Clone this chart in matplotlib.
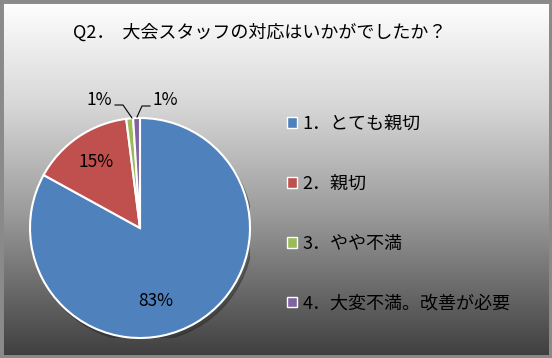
import matplotlib
matplotlib.use('Agg')
import matplotlib.pyplot as plt
import numpy as np
from matplotlib.patches import Rectangle, Circle
from matplotlib.colors import LinearSegmentedColormap

plt.rcParams['font.family'] = ['Noto Sans CJK JP', 'DejaVu Sans']

title = 'Q2．  大会スタッフの対応はいかがでしたか？'
labels = ['1．とても親切', '2．親切', '3．やや不満', '4．大変不満。改善が必要']
values = [83, 15, 1, 1]
colors = ['#4F81BD', '#C0504D', '#9BBB59', '#8064A2']

W, H = 552, 358
fig = plt.figure(figsize=(W / 100, H / 100), dpi=100)

# фон: вертикальный градиент
bg = fig.add_axes([0, 0, 1, 1])
cmap = LinearSegmentedColormap.from_list(
    'bg', [(0, '#ffffff'), (0.3, '#d6d6d6'), (0.6, '#9a9a9a'), (1, '#3e3e3e')])
grad = np.linspace(0, 1, 256).reshape(-1, 1)
bg.imshow(grad, aspect='auto', cmap=cmap, extent=[0, 1, 0, 1], origin='upper')
bg.set_xlim(0, 1)
bg.set_ylim(0, 1)
bg.axis('off')
# рамка
bg.add_patch(Rectangle((0, 0), 1, 1, transform=fig.transFigure, fill=False,
                       edgecolor='#8a8a8a', linewidth=5, clip_on=False))

fig.text(73 / W, 1 - 33 / H, title, fontsize=13, ha='left', va='center',
         color='#000000')

# круговая диаграмма
cx, cy, r = 140, 228, 110
ax = fig.add_axes([(cx - r) / W, (H - cy - r) / H, 2 * r / W, 2 * r / H])
ax.add_patch(Circle((0.025, -0.035), 1.0, color='#202020', alpha=0.35, zorder=0))
wedges, _ = ax.pie(values, colors=colors, startangle=90, counterclock=False,
                   radius=1.0, wedgeprops=dict(edgecolor='white', linewidth=1.5))
ax.set_xlim(-1, 1)
ax.set_ylim(-1, 1)
ax.set_aspect('equal')
ax.axis('off')


def to_data(px, py):
    return (px - cx) / r, (cy - py) / r


pct = ['%d%%' % v for v in values]
pos = [(156, 301), (96, 162), (99, 100), (165, 100)]
for t, (px, py) in zip(pct, pos):
    x, y = to_data(px, py)
    ax.text(x, y, t, fontsize=12.5, ha='center', va='center', clip_on=False,
            zorder=5)

# выноски для 1%
for line in [[(115, 105), (123, 105), (132, 118)], [(150, 106), (142, 106), (137, 117)]]:
    xs, ys = zip(*[to_data(*p) for p in line])
    ax.plot(xs, ys, color='black', linewidth=0.8, clip_on=False)

# легенда
leg = fig.legend(wedges, labels, loc='upper left',
                 bbox_to_anchor=(271 / W, 1 - 99 / H), frameon=False,
                 fontsize=13, labelspacing=2.31, handlelength=0.55,
                 handleheight=0.55, handletextpad=0.3)
for h in leg.legend_handles:
    h.set_edgecolor('white')
    h.set_linewidth(1)

fig.savefig('out.png', dpi=100)
